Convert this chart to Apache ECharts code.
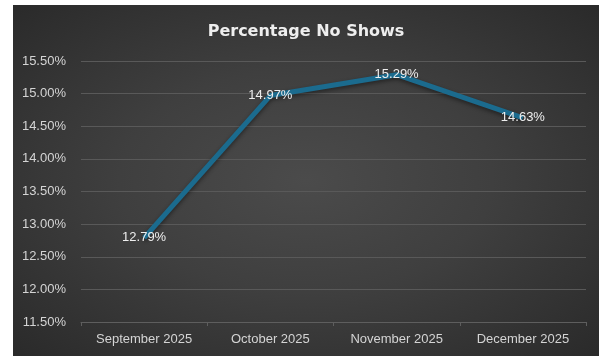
<!DOCTYPE html>
<html>
<head>
<meta charset="utf-8">
<script src="https://cdn.jsdelivr.net/npm/echarts@6/dist/echarts.min.js"></script>
<style>
  html, body { margin: 0; padding: 0; background: #ffffff; width: 599px; height: 356px; overflow: hidden; }
  #chart {
    position: absolute; left: 13px; top: 5px; width: 586px; height: 351px;
    background: radial-gradient(ellipse at 50% 50%, #4b4b4b 0%, #3f3f3f 45%, #2a2a2a 100%);
  }
</style>
</head>
<body>
<div id="chart"></div>
<script>
// Monthly no-show rate (percent)
const months = ['September 2025', 'October 2025', 'November 2025', 'December 2025'];
const noShowPct = [12.79, 14.97, 15.29, 14.63];
const yMin = 11.5;
const yMax = 15.5;
const yStep = 0.5;

const chart = echarts.init(document.getElementById('chart'), null, { renderer: 'canvas' });
const font = 'Liberation Sans, Arial, sans-serif';

chart.setOption({
  animation: false,
  backgroundColor: 'transparent',
  title: {
    text: 'Percentage No Shows',
    left: 'center',
    top: 14,
    textStyle: {
      color: '#eeeeee',
      fontFamily: 'DejaVu Sans, sans-serif',
      fontWeight: 'bold',
      fontSize: 16
    }
  },
  grid: { left: 68, right: 13, top: 56, bottom: 34 },
  xAxis: {
    type: 'category',
    data: months,
    boundaryGap: true,
    axisLine: { lineStyle: { color: '#5e5e5e', width: 1 } },
    axisTick: { show: true, length: 4, lineStyle: { color: '#5e5e5e' } },
    axisLabel: { color: '#d4d4d4', fontFamily: font, fontSize: 13, margin: 11 }
  },
  yAxis: {
    type: 'value',
    min: yMin,
    max: yMax,
    interval: yStep,
    axisLine: { show: false },
    axisTick: { show: false },
    splitLine: { lineStyle: { color: '#595959', width: 1 } },
    axisLabel: {
      color: '#d4d4d4', fontFamily: font, fontSize: 13, margin: 15,
      formatter: v => v.toFixed(2) + '%'
    }
  },
  series: [{
    type: 'line',
    data: noShowPct,
    symbol: 'circle',
    symbolSize: 1,
    itemStyle: { color: 'rgba(0,0,0,0)' },
    lineStyle: {
      color: '#1b6b8e', width: 5,
      shadowColor: 'rgba(0,0,0,0.45)', shadowBlur: 4, shadowOffsetY: 2
    },
    label: {
      show: true,
      position: 'inside',
      color: '#eeeeee',
      fontFamily: font,
      fontSize: 13,
      formatter: p => p.value.toFixed(2) + '%'
    }
  }]
});
</script>
</body>
</html>
